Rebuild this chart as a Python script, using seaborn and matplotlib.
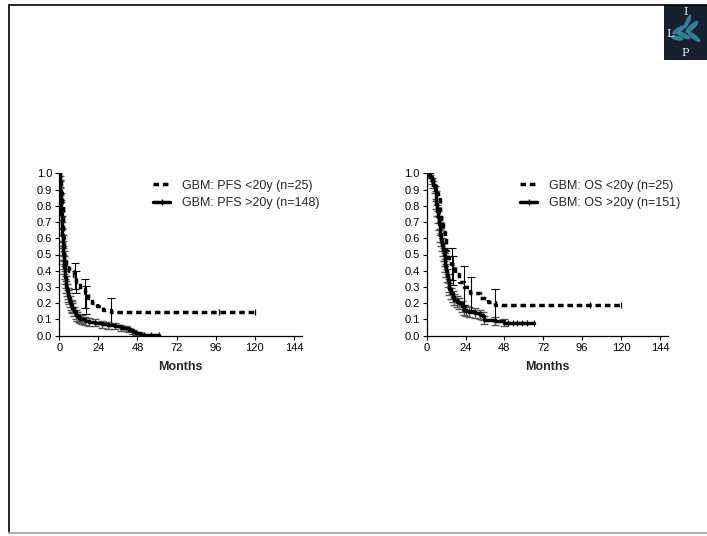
import numpy as np
import pandas as pd
import matplotlib
matplotlib.use("Agg")
import matplotlib.pyplot as plt
from matplotlib.lines import Line2D
from matplotlib.patches import Ellipse
import seaborn as sns

# ---- PFS panel ----
pfs_young_t = [0, 0.5, 1, 1.5, 2, 2.5, 3, 4, 6, 9, 10.5, 13, 15.5, 17.5, 20, 23, 27, 32, 120]
pfs_young_s = [1.0, 0.96, 0.88, 0.80, 0.72, 0.60, 0.48, 0.44, 0.40, 0.37, 0.33, 0.29, 0.26, 0.23, 0.20, 0.18, 0.16, 0.146, 0.146]
pfs_young_censor = [98, 120]
pfs_young_err_t = [9.5, 10.5, 15.5, 16.5, 32]
pfs_young_err_y = [0.37, 0.33, 0.26, 0.22, 0.146]
pfs_young_err = [0.08, 0.07, 0.09, 0.085, 0.085]

pfs_old_t = [0, 0.2, 0.4, 0.6, 0.8, 1.0, 1.2, 1.4, 1.6, 1.8, 2.0, 2.2, 2.4, 2.6, 2.8, 3.0, 3.3, 3.6, 4.0,
             4.4, 4.8, 5.2, 5.6, 6.0, 6.5, 7.0, 7.5, 8.0, 9.0, 10, 11, 12, 13, 14, 16, 18, 22, 26, 30,
             34, 38, 41, 43, 45, 47, 50, 61]
pfs_old_s = [1.0, 0.97, 0.93, 0.89, 0.85, 0.80, 0.75, 0.70, 0.66, 0.62, 0.58, 0.54, 0.51, 0.48, 0.45,
             0.42, 0.39, 0.36, 0.33, 0.30, 0.28, 0.26, 0.245, 0.23, 0.21, 0.19, 0.18, 0.17, 0.15, 0.13,
             0.12, 0.11, 0.105, 0.10, 0.09, 0.085, 0.08, 0.07, 0.065, 0.06, 0.05, 0.045, 0.035, 0.025,
             0.015, 0.007, 0.007]
pfs_old_err = [0.0, 0.014, 0.021, 0.026, 0.029, 0.033, 0.035, 0.038, 0.039, 0.04, 0.041, 0.041, 0.041,
               0.041, 0.041, 0.041, 0.04, 0.04, 0.039, 0.038, 0.037, 0.036, 0.035, 0.035, 0.034, 0.032,
               0.032, 0.031, 0.029, 0.028, 0.027, 0.026, 0.025, 0.025, 0.024, 0.023, 0.023, 0.022, 0.021,
               0.02, 0.018, 0.017, 0.014, 0.012, 0.01, 0.007, 0.007]
pfs_old_censor = [52, 56, 61]

# ---- OS panel ----
os_young_t = [0, 3, 5, 6, 7, 8, 9, 10, 11, 12, 13, 15, 17.5, 20, 23, 27, 33, 38, 42, 120]
os_young_s = [1.0, 0.96, 0.92, 0.88, 0.84, 0.76, 0.72, 0.64, 0.60, 0.52, 0.48, 0.44, 0.38, 0.33, 0.30,
              0.26, 0.23, 0.21, 0.19, 0.19]
os_young_censor = [101, 120]
os_young_err_t = [15.5, 16.5, 23, 27.5, 42]
os_young_err_y = [0.44, 0.40, 0.31, 0.26, 0.19]
os_young_err = [0.10, 0.09, 0.12, 0.10, 0.10]

os_old_t = [0, 1, 2, 3, 4, 5, 5.5, 6, 6.5, 7, 7.5, 8, 8.5, 9, 9.5, 10, 10.5, 11, 11.5, 12, 12.5, 13,
            13.5, 14, 15, 16, 17, 18.5, 20, 21.5, 23, 24.5, 26, 30, 33, 35, 35.6, 42, 48, 66]
os_old_s = [1.0, 0.99, 0.98, 0.95, 0.93, 0.90, 0.86, 0.81, 0.77, 0.73, 0.69, 0.66, 0.62, 0.59, 0.56,
            0.53, 0.50, 0.47, 0.43, 0.40, 0.37, 0.34, 0.31, 0.29, 0.26, 0.24, 0.22, 0.21, 0.20, 0.18,
            0.16, 0.15, 0.145, 0.14, 0.13, 0.12, 0.095, 0.09, 0.08, 0.08]
os_old_err = [0.0, 0.008, 0.011, 0.018, 0.021, 0.024, 0.028, 0.032, 0.034, 0.036, 0.038, 0.039, 0.04,
              0.04, 0.04, 0.041, 0.041, 0.041, 0.04, 0.04, 0.039, 0.039, 0.038, 0.037, 0.036, 0.035,
              0.034, 0.033, 0.033, 0.032, 0.03, 0.03, 0.029, 0.028, 0.027, 0.026, 0.024, 0.023, 0.022, 0.022]
os_old_censor = [50, 53, 56, 59, 62, 66]

x_ticks = [0, 24, 48, 72, 96, 120, 144]
y_ticks = [0.0, 0.1, 0.2, 0.3, 0.4, 0.5, 0.6, 0.7, 0.8, 0.9, 1.0]

sns.set_theme(style="ticks")
plt.rcParams["font.family"] = ["Liberation Sans", "DejaVu Sans"]

DASH = (0, (1.6, 1.1))
LW = 2.5


def step_value(ts, ss, t):
    idx = np.searchsorted(ts, t, side="right") - 1
    return ss[idx]


def draw_panel(ax, young, old, labels):
    yt, ys, yc, yet, yey, ye = young
    ot, os_, oe, oc = old
    # error bars for the >20y group (grey)
    ax.errorbar(ot[1:-1], os_[1:-1], yerr=oe[1:-1], fmt="none", ecolor="#555555",
                elinewidth=1.0, capsize=3.2, capthick=1.0, zorder=2)
    # error bars for the <20y group (black)
    ax.errorbar(yet, yey, yerr=ye, fmt="none", ecolor="black",
                elinewidth=0.8, capsize=3, capthick=0.8, zorder=3)
    df_old = pd.DataFrame({"t": ot, "s": os_})
    df_young = pd.DataFrame({"t": yt, "s": ys})
    sns.lineplot(data=df_old, x="t", y="s", drawstyle="steps-post", color="black",
                 linewidth=LW, errorbar=None, ax=ax, zorder=4)
    sns.lineplot(data=df_young, x="t", y="s", drawstyle="steps-post", color="black",
                 linewidth=LW, linestyle=DASH, errorbar=None, ax=ax, zorder=5)
    # censor ticks
    ax.plot(yc, [step_value(yt, ys, c) for c in yc], linestyle="none", marker="|",
            markersize=5, color="black", markeredgewidth=0.9, zorder=6)
    ax.plot(oc, [step_value(ot, os_, c) for c in oc], linestyle="none", marker="|",
            markersize=5, color="black", markeredgewidth=0.9, zorder=6)

    ax.set_xlim(0, 149)
    ax.set_ylim(0, 1.0)
    ax.set_xticks(x_ticks)
    ax.set_yticks(y_ticks)
    ax.set_yticklabels([f"{v:.1f}" for v in y_ticks])
    ax.tick_params(axis="both", labelsize=8, length=3, width=0.8, pad=2, colors="black")
    ax.set_xlabel("Months", fontsize=9, fontweight="bold", labelpad=6)
    ax.set_ylabel("")
    for sp in ["left", "bottom"]:
        ax.spines[sp].set_linewidth(0.9)
        ax.spines[sp].set_color("black")
    sns.despine(ax=ax)

    handles = [
        Line2D([0], [0], color="black", linewidth=LW, linestyle=DASH),
        Line2D([0], [0], color="black", linewidth=LW, marker="|", markersize=5,
               markeredgewidth=1),
    ]
    ax.legend(handles, labels, loc="upper left", bbox_to_anchor=(0.36, 1.0), frameon=False,
              fontsize=9, handlelength=1.4, handletextpad=0.9, labelspacing=0.45, borderpad=0)


fig = plt.figure(figsize=(7.07, 5.36), dpi=100)
fig.patch.set_facecolor("white")

ax1 = fig.add_axes([59.3 / 707, 1 - 335.7 / 536, 242.7 / 707, 162.4 / 536])
ax2 = fig.add_axes([426.7 / 707, 1 - 335.7 / 536, 241.3 / 707, 162.4 / 536])

draw_panel(ax1,
           (pfs_young_t, pfs_young_s, pfs_young_censor, pfs_young_err_t, pfs_young_err_y, pfs_young_err),
           (pfs_old_t, pfs_old_s, pfs_old_err, pfs_old_censor),
           ["GBM: PFS <20y (n=25)", "GBM: PFS >20y (n=148)"])
draw_panel(ax2,
           (os_young_t, os_young_s, os_young_censor, os_young_err_t, os_young_err_y, os_young_err),
           (os_old_t, os_old_s, os_old_err, os_old_censor),
           ["GBM: OS <20y (n=25)", "GBM: OS >20y (n=151)"])

# slide frame
fig.add_artist(Line2D([9 / 707, 1], [1 - 5 / 536, 1 - 5 / 536], color="black", linewidth=1.2))
fig.add_artist(Line2D([9 / 707, 9 / 707], [1 - 5 / 536, 1 - 533 / 536], color="black", linewidth=1.2))
fig.add_artist(Line2D([9 / 707, 1], [1 - 533 / 536, 1 - 533 / 536], color="#b0b0b0", linewidth=1.5))

# logo
lax = fig.add_axes([664 / 707, 1 - 60 / 536, 43 / 707, 55 / 536])
lax.set_facecolor("#17212e")
lax.set_xlim(0, 1)
lax.set_ylim(0, 1)
lax.set_xticks([])
lax.set_yticks([])
for sp in lax.spines.values():
    sp.set_visible(False)
for cx, cy, w, h, ang in [(0.35, 0.55, 0.3, 0.07, 25), (0.45, 0.45, 0.3, 0.07, -20),
                          (0.65, 0.6, 0.32, 0.08, 35), (0.7, 0.42, 0.3, 0.07, -30),
                          (0.3, 0.4, 0.26, 0.06, -10), (0.55, 0.7, 0.26, 0.06, 60)]:
    lax.add_patch(Ellipse((cx, cy), w, h, angle=ang, color="#2f8fa6", alpha=0.85))
lax.text(0.5, 0.88, "I", color="#e8e8e8", fontsize=8, family="DejaVu Serif", ha="center", va="center")
lax.text(0.14, 0.48, "L", color="#e8e8e8", fontsize=8, family="DejaVu Serif", ha="center", va="center")
lax.text(0.5, 0.12, "P", color="#e8e8e8", fontsize=8, family="DejaVu Serif", ha="center", va="center")

fig.savefig("out.png", dpi=100)
